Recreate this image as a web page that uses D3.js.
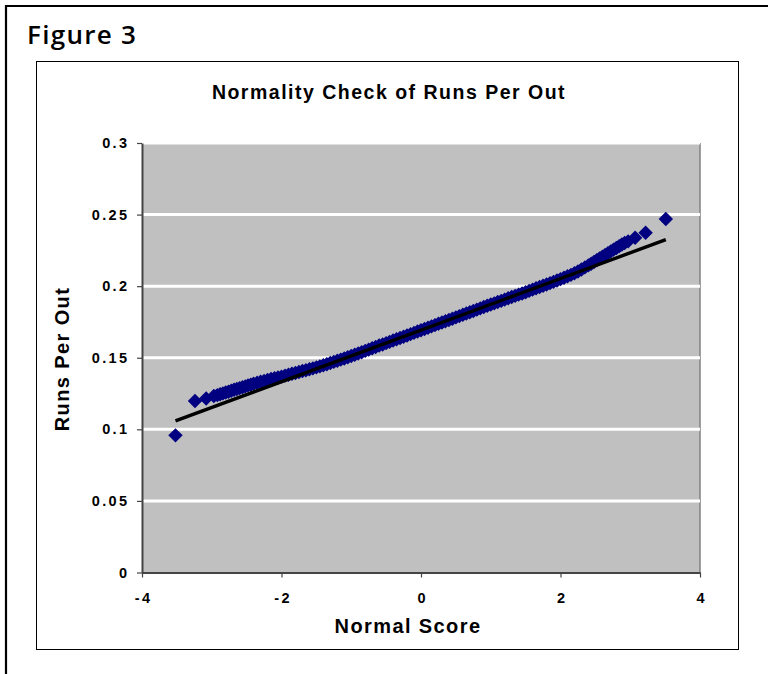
<!DOCTYPE html>
<html>
<head>
<meta charset="utf-8">
<script src="https://cdn.jsdelivr.net/npm/d3@7"></script>
<style>
  body { margin: 0; background: #fff; }
  svg { display: block; }
</style>
</head>
<body>
<div id="container"></div>
<script>
// normal scores (x) and runs per out (y)
let normalScore = [
  -3.52, -3.24, -3.08, -2.97, -2.92, -2.88, -2.84, -2.80, -2.76, -2.72, -2.68,
  -2.64, -2.60, -2.56, -2.52, -2.48, -2.44, -2.40, -2.35, -2.30, -2.25, -2.20,
  -2.15, -2.10, -2.05, -2.00, -1.95, -1.90, -1.85, -1.80, -1.75, -1.70, -1.65,
  -1.60, -1.55, -1.50, -1.45, -1.40, -1.35, -1.30, -1.25, -1.20, -1.15, -1.10,
  -1.05, -1.00, -0.95, -0.90, -0.85, -0.80, -0.75, -0.70, -0.65, -0.60, -0.55,
  -0.50, -0.45, -0.40, -0.35, -0.30, -0.25, -0.20, -0.15, -0.10, -0.05, 0.00,
  0.05, 0.10, 0.15, 0.20, 0.25, 0.30, 0.35, 0.40, 0.45, 0.50, 0.55,
  0.60, 0.65, 0.70, 0.75, 0.80, 0.85, 0.90, 0.95, 1.00, 1.05, 1.10,
  1.15, 1.20, 1.25, 1.30, 1.35, 1.40, 1.45, 1.50, 1.55, 1.60, 1.65,
  1.70, 1.75, 1.80, 1.85, 1.90, 1.95, 2.00, 2.05, 2.10, 2.15, 2.20,
  2.25, 2.30, 2.35, 2.40, 2.44, 2.48, 2.52, 2.56, 2.60, 2.64, 2.68,
  2.72, 2.76, 2.80, 2.84, 2.88, 2.92, 2.97, 3.07, 3.22, 3.51
];
let runsPerOut = [
  0.0958, 0.1198, 0.1215, 0.1233, 0.1239, 0.1245, 0.1251, 0.1257, 0.1263, 0.1269, 0.1276,
  0.1282, 0.1288, 0.1294, 0.1300, 0.1307, 0.1312, 0.1318, 0.1325, 0.1332, 0.1338, 0.1345,
  0.1351, 0.1357, 0.1362, 0.1368, 0.1375, 0.1381, 0.1388, 0.1394, 0.1400, 0.1407, 0.1413,
  0.1420, 0.1426, 0.1433, 0.1440, 0.1448, 0.1455, 0.1463, 0.1471, 0.1479, 0.1487, 0.1495,
  0.1503, 0.1512, 0.1521, 0.1530, 0.1539, 0.1548, 0.1557, 0.1566, 0.1575, 0.1585, 0.1593,
  0.1602, 0.1611, 0.1620, 0.1629, 0.1638, 0.1647, 0.1656, 0.1665, 0.1674, 0.1683, 0.1692,
  0.1701, 0.1710, 0.1719, 0.1728, 0.1737, 0.1746, 0.1755, 0.1764, 0.1773, 0.1782, 0.1791,
  0.1800, 0.1809, 0.1818, 0.1827, 0.1836, 0.1845, 0.1854, 0.1863, 0.1872, 0.1880, 0.1889,
  0.1897, 0.1906, 0.1915, 0.1924, 0.1932, 0.1941, 0.1949, 0.1958, 0.1967, 0.1976, 0.1985,
  0.1994, 0.2003, 0.2012, 0.2021, 0.2030, 0.2040, 0.2049, 0.2059, 0.2069, 0.2079, 0.2090,
  0.2103, 0.2117, 0.2131, 0.2145, 0.2157, 0.2169, 0.2182, 0.2194, 0.2206, 0.2218, 0.2230,
  0.2243, 0.2255, 0.2267, 0.2279, 0.2291, 0.2301, 0.2313, 0.2338, 0.2373, 0.2469
];
// fitted line end points
let trendX = [-3.52, 3.51];
let trendY = [0.1059, 0.2325];

let xTicks = [-4, -2, 0, 2, 4];
let yTicks = [0, 0.05, 0.1, 0.15, 0.2, 0.25, 0.3];

let W = 768, H = 674;
let plot = { LEFT: 142, RIGHT: 700, TOP: 143, BOTTOM: 572.5 };
let font = '"Liberation Sans", Arial, sans-serif';

let svg = d3.select("#container").append("svg")
  .attr("width", W).attr("height", H);

svg.append("rect").attr("width", W).attr("height", H).attr("fill", "#fff");

// outer page frame (top and left only)
svg.append("line").attr("x1", 5).attr("x2", W).attr("y1", 6).attr("y2", 6)
  .attr("stroke", "#000").attr("stroke-width", 2.2);
svg.append("line").attr("x1", 6).attr("x2", 6).attr("y1", 5).attr("y2", H)
  .attr("stroke", "#000").attr("stroke-width", 2.2);

svg.append("text").attr("x", 27).attr("y", 43.5)
  .attr("font-family", '"Open Sans", "Noto Sans", sans-serif')
  .attr("font-size", 26).attr("font-weight", 600).attr("letter-spacing", 1.3)
  .text("Figure 3");

// chart frame
svg.append("rect").attr("x", 36.5).attr("y", 61.5).attr("width", 702).attr("height", 588)
  .attr("fill", "#fff").attr("stroke", "#000").attr("stroke-width", 1);

let x = d3.scaleLinear().domain([-4, 4]).range([plot.LEFT, plot.RIGHT]);
let y = d3.scaleLinear().domain([0, 0.3]).range([plot.BOTTOM, plot.TOP]);

// plot area
svg.append("rect")
  .attr("x", plot.LEFT).attr("y", plot.TOP)
  .attr("width", plot.RIGHT - plot.LEFT).attr("height", plot.BOTTOM - plot.TOP)
  .attr("fill", "#c0c0c0");
svg.append("line")
  .attr("x1", plot.RIGHT).attr("x2", plot.RIGHT).attr("y1", plot.TOP).attr("y2", plot.BOTTOM)
  .attr("stroke", "#808080").attr("stroke-width", 1.5);

// gridlines
svg.selectAll("line.grid")
  .data(yTicks.filter(d => d > 0))
  .enter().append("line")
  .attr("class", "grid")
  .attr("x1", plot.LEFT).attr("x2", plot.RIGHT)
  .attr("y1", d => y(d)).attr("y2", d => y(d))
  .attr("stroke", "#fff").attr("stroke-width", 3);

// axes
let ls = 2.4;
let yAxis = svg.append("g")
  .attr("transform", `translate(${plot.LEFT}, 0)`)
  .call(d3.axisLeft(y).tickValues(yTicks).tickSize(5).tickSizeOuter(0).tickPadding(7.5)
    .tickFormat(d3.format("~g")));

let xAxis = svg.append("g")
  .attr("transform", `translate(0, ${plot.BOTTOM})`)
  .call(d3.axisBottom(x).tickValues(xTicks).tickSize(5).tickSizeOuter(0).tickPadding(15)
    .tickFormat(d => d < 0 ? "-" + Math.abs(d) : d));
xAxis.selectAll("text").attr("dx", ls / 2);

svg.selectAll(".tick text")
  .attr("font-family", font).attr("font-weight", "bold").attr("font-size", 14.5)
  .attr("letter-spacing", ls).attr("fill", "#000");
svg.selectAll(".domain").attr("stroke", "#444").attr("stroke-width", 2);
svg.selectAll(".tick line").attr("stroke", "#444").attr("stroke-width", 1.2);

// points
let points = normalScore.map((d, i) => ({ x: d, y: runsPerOut[i] }));
let diamond = d3.symbol().type(d3.symbolSquare).size(104);
svg.append("g").selectAll("path")
  .data(points)
  .enter().append("path")
  .attr("d", diamond)
  .attr("transform", d => `translate(${x(d.x)}, ${y(d.y)}) rotate(45)`)
  .attr("fill", "#000080");

// fitted line
svg.append("line")
  .attr("x1", x(trendX[0])).attr("y1", y(trendY[0]))
  .attr("x2", x(trendX[1])).attr("y2", y(trendY[1]))
  .attr("stroke", "#000").attr("stroke-width", 3.4);

// titles
svg.append("text")
  .attr("x", 389).attr("y", 99)
  .attr("text-anchor", "middle")
  .attr("font-family", font).attr("font-weight", "bold").attr("font-size", 19.5)
  .attr("letter-spacing", 1.5)
  .text("Normality Check of Runs Per Out");

svg.append("text")
  .attr("x", 408).attr("y", 633)
  .attr("text-anchor", "middle")
  .attr("font-family", font).attr("font-weight", "bold").attr("font-size", 20)
  .attr("letter-spacing", 1.4)
  .text("Normal Score");

svg.append("text")
  .attr("transform", "translate(69, 359) rotate(-90)")
  .attr("text-anchor", "middle")
  .attr("font-family", font).attr("font-weight", "bold").attr("font-size", 20)
  .attr("letter-spacing", 1.4)
  .text("Runs Per Out");
</script>
</body>
</html>
